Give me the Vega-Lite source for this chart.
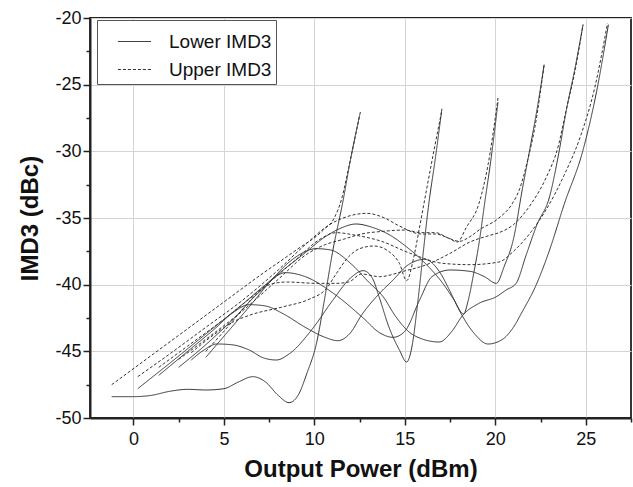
{
  "$schema": "https://vega.github.io/schema/vega-lite/v6.json",
  "autosize": "none",
  "width": 541,
  "height": 400,
  "padding": {"left": 90, "top": 18, "right": 2, "bottom": 69},
  "background": "white",
  "config": {
    "font": "Liberation Sans",
    "view": {"stroke": "#222", "strokeWidth": 1.8}
  },
  "datasets": {
    "pts": [
      {"s":"L1","t":"Lower IMD3","x":-1.2,"y":-48.4},{"s":"L1","t":"Lower IMD3","x":0,"y":-48.4},{"s":"L1","t":"Lower IMD3","x":1,"y":-48.3},{"s":"L1","t":"Lower IMD3","x":2,"y":-48.0},{"s":"L1","t":"Lower IMD3","x":3,"y":-47.85},{"s":"L1","t":"Lower IMD3","x":4,"y":-47.9},{"s":"L1","t":"Lower IMD3","x":5,"y":-47.8},{"s":"L1","t":"Lower IMD3","x":5.8,"y":-47.3},{"s":"L1","t":"Lower IMD3","x":6.6,"y":-46.9},{"s":"L1","t":"Lower IMD3","x":7.3,"y":-47.3},{"s":"L1","t":"Lower IMD3","x":8.0,"y":-48.3},{"s":"L1","t":"Lower IMD3","x":8.6,"y":-48.85},{"s":"L1","t":"Lower IMD3","x":9.1,"y":-48.3},{"s":"L1","t":"Lower IMD3","x":9.6,"y":-46.6},{"s":"L1","t":"Lower IMD3","x":10.1,"y":-44.5},{"s":"L1","t":"Lower IMD3","x":10.6,"y":-40.8},{"s":"L1","t":"Lower IMD3","x":11.0,"y":-37.6},{"s":"L1","t":"Lower IMD3","x":11.6,"y":-33.6},{"s":"L1","t":"Lower IMD3","x":12.0,"y":-30.6},{"s":"L1","t":"Lower IMD3","x":12.5,"y":-27.3},

      {"s":"L2","t":"Lower IMD3","x":3.2,"y":-45.65},{"s":"L2","t":"Lower IMD3","x":3.9,"y":-44.9},{"s":"L2","t":"Lower IMD3","x":4.6,"y":-44.45},{"s":"L2","t":"Lower IMD3","x":5.4,"y":-44.5},{"s":"L2","t":"Lower IMD3","x":6.4,"y":-44.9},{"s":"L2","t":"Lower IMD3","x":7.2,"y":-45.5},{"s":"L2","t":"Lower IMD3","x":7.9,"y":-45.65},{"s":"L2","t":"Lower IMD3","x":8.6,"y":-45.2},{"s":"L2","t":"Lower IMD3","x":9.9,"y":-43.3},{"s":"L2","t":"Lower IMD3","x":11.0,"y":-41.2},{"s":"L2","t":"Lower IMD3","x":12.0,"y":-39.5},{"s":"L2","t":"Lower IMD3","x":12.7,"y":-38.95},{"s":"L2","t":"Lower IMD3","x":13.2,"y":-39.5},{"s":"L2","t":"Lower IMD3","x":13.6,"y":-41.0},{"s":"L2","t":"Lower IMD3","x":14.1,"y":-43.1},{"s":"L2","t":"Lower IMD3","x":14.7,"y":-44.9},{"s":"L2","t":"Lower IMD3","x":15.1,"y":-45.8},{"s":"L2","t":"Lower IMD3","x":15.4,"y":-44.6},{"s":"L2","t":"Lower IMD3","x":15.7,"y":-41.5},{"s":"L2","t":"Lower IMD3","x":16.0,"y":-37.8},{"s":"L2","t":"Lower IMD3","x":16.3,"y":-34.2},{"s":"L2","t":"Lower IMD3","x":16.7,"y":-30.4},{"s":"L2","t":"Lower IMD3","x":17.05,"y":-26.8},

      {"s":"L3","t":"Lower IMD3","x":0.24,"y":-47.8},{"s":"L3","t":"Lower IMD3","x":2,"y":-45.9},{"s":"L3","t":"Lower IMD3","x":4,"y":-43.7},{"s":"L3","t":"Lower IMD3","x":6,"y":-41.5},{"s":"L3","t":"Lower IMD3","x":8,"y":-39.2},{"s":"L3","t":"Lower IMD3","x":9.5,"y":-37.6},{"s":"L3","t":"Lower IMD3","x":10.5,"y":-36.5},{"s":"L3","t":"Lower IMD3","x":11.4,"y":-35.8},{"s":"L3","t":"Lower IMD3","x":12.3,"y":-35.45},{"s":"L3","t":"Lower IMD3","x":13.2,"y":-35.7},{"s":"L3","t":"Lower IMD3","x":14.2,"y":-36.3},{"s":"L3","t":"Lower IMD3","x":15.08,"y":-37.15},{"s":"L3","t":"Lower IMD3","x":16.2,"y":-38.5},{"s":"L3","t":"Lower IMD3","x":17.1,"y":-39.9},{"s":"L3","t":"Lower IMD3","x":17.7,"y":-41.1},{"s":"L3","t":"Lower IMD3","x":18.25,"y":-42.2},{"s":"L3","t":"Lower IMD3","x":18.5,"y":-41.2},{"s":"L3","t":"Lower IMD3","x":18.8,"y":-39.2},{"s":"L3","t":"Lower IMD3","x":19.1,"y":-36.9},{"s":"L3","t":"Lower IMD3","x":19.4,"y":-34.0},{"s":"L3","t":"Lower IMD3","x":19.8,"y":-30.2},{"s":"L3","t":"Lower IMD3","x":20.15,"y":-26.3},

      {"s":"L4","t":"Lower IMD3","x":1.4,"y":-46.8},{"s":"L4","t":"Lower IMD3","x":3,"y":-45.0},{"s":"L4","t":"Lower IMD3","x":4.5,"y":-43.3},{"s":"L4","t":"Lower IMD3","x":5.5,"y":-42.1},{"s":"L4","t":"Lower IMD3","x":6.4,"y":-41.5},{"s":"L4","t":"Lower IMD3","x":7.3,"y":-41.6},{"s":"L4","t":"Lower IMD3","x":8.3,"y":-42.2},{"s":"L4","t":"Lower IMD3","x":9.5,"y":-43.2},{"s":"L4","t":"Lower IMD3","x":10.5,"y":-43.9},{"s":"L4","t":"Lower IMD3","x":11.3,"y":-44.2},{"s":"L4","t":"Lower IMD3","x":12.0,"y":-43.6},{"s":"L4","t":"Lower IMD3","x":12.6,"y":-42.3},{"s":"L4","t":"Lower IMD3","x":13.5,"y":-40.8},{"s":"L4","t":"Lower IMD3","x":14.35,"y":-39.65},{"s":"L4","t":"Lower IMD3","x":15.2,"y":-38.5},{"s":"L4","t":"Lower IMD3","x":16.1,"y":-38.1},{"s":"L4","t":"Lower IMD3","x":16.9,"y":-39.0},{"s":"L4","t":"Lower IMD3","x":17.5,"y":-40.5},{"s":"L4","t":"Lower IMD3","x":18.0,"y":-41.9},{"s":"L4","t":"Lower IMD3","x":18.8,"y":-43.6},{"s":"L4","t":"Lower IMD3","x":19.6,"y":-44.45},{"s":"L4","t":"Lower IMD3","x":20.4,"y":-44.1},{"s":"L4","t":"Lower IMD3","x":21.0,"y":-43.2},{"s":"L4","t":"Lower IMD3","x":21.5,"y":-42.0},{"s":"L4","t":"Lower IMD3","x":22.2,"y":-40.2},{"s":"L4","t":"Lower IMD3","x":23.0,"y":-37.4},{"s":"L4","t":"Lower IMD3","x":23.8,"y":-34.0},{"s":"L4","t":"Lower IMD3","x":24.85,"y":-29.9},{"s":"L4","t":"Lower IMD3","x":25.6,"y":-25.5},{"s":"L4","t":"Lower IMD3","x":26.25,"y":-20.5},

      {"s":"L5","t":"Lower IMD3","x":2.5,"y":-46.2},{"s":"L5","t":"Lower IMD3","x":4,"y":-44.5},{"s":"L5","t":"Lower IMD3","x":5.5,"y":-42.6},{"s":"L5","t":"Lower IMD3","x":7,"y":-40.5},{"s":"L5","t":"Lower IMD3","x":8.4,"y":-39.1},{"s":"L5","t":"Lower IMD3","x":9.5,"y":-39.4},{"s":"L5","t":"Lower IMD3","x":11.0,"y":-40.6},{"s":"L5","t":"Lower IMD3","x":12.7,"y":-42.5},{"s":"L5","t":"Lower IMD3","x":13.6,"y":-43.6},{"s":"L5","t":"Lower IMD3","x":14.35,"y":-43.95},{"s":"L5","t":"Lower IMD3","x":15.0,"y":-43.5},{"s":"L5","t":"Lower IMD3","x":15.8,"y":-41.2},{"s":"L5","t":"Lower IMD3","x":16.5,"y":-39.4},{"s":"L5","t":"Lower IMD3","x":17.5,"y":-38.9},{"s":"L5","t":"Lower IMD3","x":18.6,"y":-39.0},{"s":"L5","t":"Lower IMD3","x":19.4,"y":-39.4},{"s":"L5","t":"Lower IMD3","x":20.06,"y":-39.9},{"s":"L5","t":"Lower IMD3","x":20.5,"y":-38.6},{"s":"L5","t":"Lower IMD3","x":21.0,"y":-36.6},{"s":"L5","t":"Lower IMD3","x":21.5,"y":-32.8},{"s":"L5","t":"Lower IMD3","x":21.9,"y":-29.9},{"s":"L5","t":"Lower IMD3","x":22.35,"y":-26.5},{"s":"L5","t":"Lower IMD3","x":22.7,"y":-23.5},

      {"s":"L6","t":"Lower IMD3","x":4.0,"y":-45.45},{"s":"L6","t":"Lower IMD3","x":5.3,"y":-43.4},{"s":"L6","t":"Lower IMD3","x":6.5,"y":-41.5},{"s":"L6","t":"Lower IMD3","x":7.6,"y":-39.7},{"s":"L6","t":"Lower IMD3","x":8.8,"y":-38.1},{"s":"L6","t":"Lower IMD3","x":10.1,"y":-37.3},{"s":"L6","t":"Lower IMD3","x":10.9,"y":-37.4},{"s":"L6","t":"Lower IMD3","x":12.0,"y":-38.4},{"s":"L6","t":"Lower IMD3","x":13.0,"y":-39.8},{"s":"L6","t":"Lower IMD3","x":13.8,"y":-40.9},{"s":"L6","t":"Lower IMD3","x":14.5,"y":-42.4},{"s":"L6","t":"Lower IMD3","x":15.5,"y":-43.8},{"s":"L6","t":"Lower IMD3","x":16.9,"y":-44.3},{"s":"L6","t":"Lower IMD3","x":17.6,"y":-43.5},{"s":"L6","t":"Lower IMD3","x":18.2,"y":-42.3},{"s":"L6","t":"Lower IMD3","x":19.1,"y":-41.4},{"s":"L6","t":"Lower IMD3","x":20.06,"y":-40.9},{"s":"L6","t":"Lower IMD3","x":20.6,"y":-40.4},{"s":"L6","t":"Lower IMD3","x":21.15,"y":-39.9},{"s":"L6","t":"Lower IMD3","x":21.7,"y":-37.8},{"s":"L6","t":"Lower IMD3","x":22.3,"y":-35.5},{"s":"L6","t":"Lower IMD3","x":23.0,"y":-33.4},{"s":"L6","t":"Lower IMD3","x":23.5,"y":-30.2},{"s":"L6","t":"Lower IMD3","x":23.93,"y":-26.9},{"s":"L6","t":"Lower IMD3","x":24.4,"y":-23.8},{"s":"L6","t":"Lower IMD3","x":24.85,"y":-20.5},

      {"s":"U1","t":"Upper IMD3","x":-1.2,"y":-47.5},{"s":"U1","t":"Upper IMD3","x":1,"y":-45.3},{"s":"U1","t":"Upper IMD3","x":3,"y":-43.3},{"s":"U1","t":"Upper IMD3","x":5,"y":-41.3},{"s":"U1","t":"Upper IMD3","x":7,"y":-39.3},{"s":"U1","t":"Upper IMD3","x":9,"y":-37.4},{"s":"U1","t":"Upper IMD3","x":10.5,"y":-35.9},{"s":"U1","t":"Upper IMD3","x":11.1,"y":-35.0},{"s":"U1","t":"Upper IMD3","x":11.5,"y":-33.6},{"s":"U1","t":"Upper IMD3","x":11.9,"y":-31.2},{"s":"U1","t":"Upper IMD3","x":12.2,"y":-29.3},{"s":"U1","t":"Upper IMD3","x":12.55,"y":-27.0},

      {"s":"U2","t":"Upper IMD3","x":3.2,"y":-45.1},{"s":"U2","t":"Upper IMD3","x":4.5,"y":-43.7},{"s":"U2","t":"Upper IMD3","x":5.5,"y":-42.8},{"s":"U2","t":"Upper IMD3","x":6.4,"y":-42.3},{"s":"U2","t":"Upper IMD3","x":8.3,"y":-41.65},{"s":"U2","t":"Upper IMD3","x":9.7,"y":-41.1},{"s":"U2","t":"Upper IMD3","x":10.66,"y":-40.3},{"s":"U2","t":"Upper IMD3","x":11.2,"y":-39.2},{"s":"U2","t":"Upper IMD3","x":11.9,"y":-37.9},{"s":"U2","t":"Upper IMD3","x":12.5,"y":-37.3},{"s":"U2","t":"Upper IMD3","x":13.3,"y":-37.1},{"s":"U2","t":"Upper IMD3","x":14.2,"y":-37.6},{"s":"U2","t":"Upper IMD3","x":14.7,"y":-38.4},{"s":"U2","t":"Upper IMD3","x":15.1,"y":-39.7},{"s":"U2","t":"Upper IMD3","x":15.5,"y":-37.9},{"s":"U2","t":"Upper IMD3","x":15.8,"y":-35.8},{"s":"U2","t":"Upper IMD3","x":16.1,"y":-33.6},{"s":"U2","t":"Upper IMD3","x":16.6,"y":-30.0},{"s":"U2","t":"Upper IMD3","x":17.05,"y":-26.9},

      {"s":"U3","t":"Upper IMD3","x":0.24,"y":-46.9},{"s":"U3","t":"Upper IMD3","x":2,"y":-45.2},{"s":"U3","t":"Upper IMD3","x":4,"y":-43.2},{"s":"U3","t":"Upper IMD3","x":6,"y":-41.2},{"s":"U3","t":"Upper IMD3","x":8,"y":-38.9},{"s":"U3","t":"Upper IMD3","x":9.5,"y":-37.0},{"s":"U3","t":"Upper IMD3","x":10.84,"y":-35.5},{"s":"U3","t":"Upper IMD3","x":11.8,"y":-34.9},{"s":"U3","t":"Upper IMD3","x":12.9,"y":-34.65},{"s":"U3","t":"Upper IMD3","x":13.8,"y":-34.95},{"s":"U3","t":"Upper IMD3","x":14.7,"y":-35.6},{"s":"U3","t":"Upper IMD3","x":15.9,"y":-36.2},{"s":"U3","t":"Upper IMD3","x":16.7,"y":-36.2},{"s":"U3","t":"Upper IMD3","x":17.4,"y":-36.5},{"s":"U3","t":"Upper IMD3","x":17.9,"y":-36.8},{"s":"U3","t":"Upper IMD3","x":18.4,"y":-35.7},{"s":"U3","t":"Upper IMD3","x":19.1,"y":-33.9},{"s":"U3","t":"Upper IMD3","x":19.6,"y":-31.0},{"s":"U3","t":"Upper IMD3","x":20.15,"y":-26.0},

      {"s":"U4","t":"Upper IMD3","x":1.4,"y":-46.2},{"s":"U4","t":"Upper IMD3","x":3,"y":-44.6},{"s":"U4","t":"Upper IMD3","x":5,"y":-42.6},{"s":"U4","t":"Upper IMD3","x":7,"y":-40.4},{"s":"U4","t":"Upper IMD3","x":9,"y":-38.1},{"s":"U4","t":"Upper IMD3","x":10.3,"y":-36.6},{"s":"U4","t":"Upper IMD3","x":11.2,"y":-36.1},{"s":"U4","t":"Upper IMD3","x":12.3,"y":-36.3},{"s":"U4","t":"Upper IMD3","x":13.6,"y":-36.7},{"s":"U4","t":"Upper IMD3","x":15.3,"y":-37.65},{"s":"U4","t":"Upper IMD3","x":17.1,"y":-38.4},{"s":"U4","t":"Upper IMD3","x":18.6,"y":-38.5},{"s":"U4","t":"Upper IMD3","x":20.2,"y":-38.3},{"s":"U4","t":"Upper IMD3","x":21.0,"y":-37.5},{"s":"U4","t":"Upper IMD3","x":22.0,"y":-36.0},{"s":"U4","t":"Upper IMD3","x":22.8,"y":-34.4},{"s":"U4","t":"Upper IMD3","x":23.8,"y":-31.8},{"s":"U4","t":"Upper IMD3","x":24.7,"y":-28.9},{"s":"U4","t":"Upper IMD3","x":25.5,"y":-25.2},{"s":"U4","t":"Upper IMD3","x":26.2,"y":-20.4},

      {"s":"U5","t":"Upper IMD3","x":2.5,"y":-45.6},{"s":"U5","t":"Upper IMD3","x":4,"y":-44.1},{"s":"U5","t":"Upper IMD3","x":6,"y":-42.0},{"s":"U5","t":"Upper IMD3","x":8,"y":-39.6},{"s":"U5","t":"Upper IMD3","x":9.6,"y":-37.7},{"s":"U5","t":"Upper IMD3","x":10.6,"y":-37.0},{"s":"U5","t":"Upper IMD3","x":11.6,"y":-36.6},{"s":"U5","t":"Upper IMD3","x":12.6,"y":-36.2},{"s":"U5","t":"Upper IMD3","x":13.8,"y":-36.0},{"s":"U5","t":"Upper IMD3","x":15.0,"y":-35.9},{"s":"U5","t":"Upper IMD3","x":15.9,"y":-36.1},{"s":"U5","t":"Upper IMD3","x":16.7,"y":-36.1},{"s":"U5","t":"Upper IMD3","x":17.4,"y":-36.5},{"s":"U5","t":"Upper IMD3","x":18.0,"y":-36.75},{"s":"U5","t":"Upper IMD3","x":18.6,"y":-36.4},{"s":"U5","t":"Upper IMD3","x":19.1,"y":-35.9},{"s":"U5","t":"Upper IMD3","x":20.2,"y":-35.0},{"s":"U5","t":"Upper IMD3","x":20.9,"y":-34.0},{"s":"U5","t":"Upper IMD3","x":21.35,"y":-32.8},{"s":"U5","t":"Upper IMD3","x":21.8,"y":-30.6},{"s":"U5","t":"Upper IMD3","x":22.2,"y":-28.1},{"s":"U5","t":"Upper IMD3","x":22.7,"y":-23.5},

      {"s":"U6","t":"Upper IMD3","x":4.0,"y":-45.0},{"s":"U6","t":"Upper IMD3","x":5.0,"y":-43.5},{"s":"U6","t":"Upper IMD3","x":6.0,"y":-41.9},{"s":"U6","t":"Upper IMD3","x":6.8,"y":-40.7},{"s":"U6","t":"Upper IMD3","x":7.5,"y":-40.0},{"s":"U6","t":"Upper IMD3","x":8.5,"y":-39.8},{"s":"U6","t":"Upper IMD3","x":10.1,"y":-39.9},{"s":"U6","t":"Upper IMD3","x":11.2,"y":-39.9},{"s":"U6","t":"Upper IMD3","x":11.9,"y":-39.8},{"s":"U6","t":"Upper IMD3","x":12.6,"y":-39.2},{"s":"U6","t":"Upper IMD3","x":13.6,"y":-39.4},{"s":"U6","t":"Upper IMD3","x":14.9,"y":-39.0},{"s":"U6","t":"Upper IMD3","x":16.2,"y":-38.5},{"s":"U6","t":"Upper IMD3","x":17.5,"y":-37.65},{"s":"U6","t":"Upper IMD3","x":18.6,"y":-36.8},{"s":"U6","t":"Upper IMD3","x":19.7,"y":-36.3},{"s":"U6","t":"Upper IMD3","x":20.2,"y":-36.1},{"s":"U6","t":"Upper IMD3","x":21.0,"y":-35.5},{"s":"U6","t":"Upper IMD3","x":22.0,"y":-33.9},{"s":"U6","t":"Upper IMD3","x":22.8,"y":-32.0},{"s":"U6","t":"Upper IMD3","x":23.5,"y":-29.5},{"s":"U6","t":"Upper IMD3","x":23.9,"y":-27.0},{"s":"U6","t":"Upper IMD3","x":24.4,"y":-24.0},{"s":"U6","t":"Upper IMD3","x":24.85,"y":-20.5}
    ]
  },
  "data": {"name": "pts"},
  "mark": {"type": "line", "interpolate": "monotone", "strokeWidth": 1, "color": "#333", "clip": true},
  "encoding": {
    "x": {
      "field": "x", "type": "quantitative",
      "scale": {"domain": [-2.4, 27.5], "nice": false, "zero": false},
      "axis": {
        "title": "Output Power (dBm)",
        "values": [-2.5, 0, 2.5, 5, 7.5, 10, 12.5, 15, 17.5, 20, 22.5, 25, 27.5],
        "labelExpr": "datum.value % 5 === 0 ? '' + datum.value : ''",
        "labelFontSize": 18, "labelColor": "#111", "labelPadding": 5,
        "titleFontSize": 24, "titleFontWeight": "bold", "titleColor": "#111", "titlePadding": 9,
        "domainColor": "#222", "domainWidth": 2,
        "tickColor": "#222", "tickWidth": 1.5,
        "tickSize": {"condition": {"test": "datum.value % 5 === 0", "value": 7}, "value": 4},
        "gridColor": "#d4d4d4", "gridWidth": 1,
        "gridOpacity": {"condition": {"test": "datum.value % 5 === 0", "value": 1}, "value": 0}
      }
    },
    "y": {
      "field": "y", "type": "quantitative",
      "scale": {"domain": [-50, -20], "nice": false, "zero": false},
      "axis": {
        "title": "IMD3 (dBc)",
        "values": [-50, -47.5, -45, -42.5, -40, -37.5, -35, -32.5, -30, -27.5, -25, -22.5, -20],
        "labelExpr": "datum.value % 5 === 0 ? '' + datum.value : ''",
        "labelFontSize": 18, "labelColor": "#111", "labelPadding": 2,
        "titleFontSize": 24, "titleFontWeight": "bold", "titleColor": "#111", "titlePadding": 12,
        "domainColor": "#222", "domainWidth": 2,
        "tickColor": "#222", "tickWidth": 1.5,
        "tickSize": {"condition": {"test": "datum.value % 5 === 0", "value": 7}, "value": 4},
        "gridColor": "#d4d4d4", "gridWidth": 1,
        "gridOpacity": {"condition": {"test": "datum.value % 5 === 0", "value": 1}, "value": 0}
      }
    },
    "detail": {"field": "s"},
    "strokeDash": {
      "field": "t", "type": "nominal",
      "scale": {"domain": ["Lower IMD3", "Upper IMD3"], "range": [[1, 0], [3, 2]]},
      "legend": {
        "title": null, "orient": "none", "legendX": 7, "legendY": 2,
        "symbolType": "stroke", "symbolSize": 1100, "symbolStrokeWidth": 1, "symbolStrokeColor": "#333",
        "symbolOffset": 16,
        "labelFontSize": 19, "labelColor": "#111", "labelOffset": 17,
        "strokeColor": "#555", "fillColor": "white", "padding": 4, "rowPadding": -10,
        "offset": 0
      }
    }
  }
}
